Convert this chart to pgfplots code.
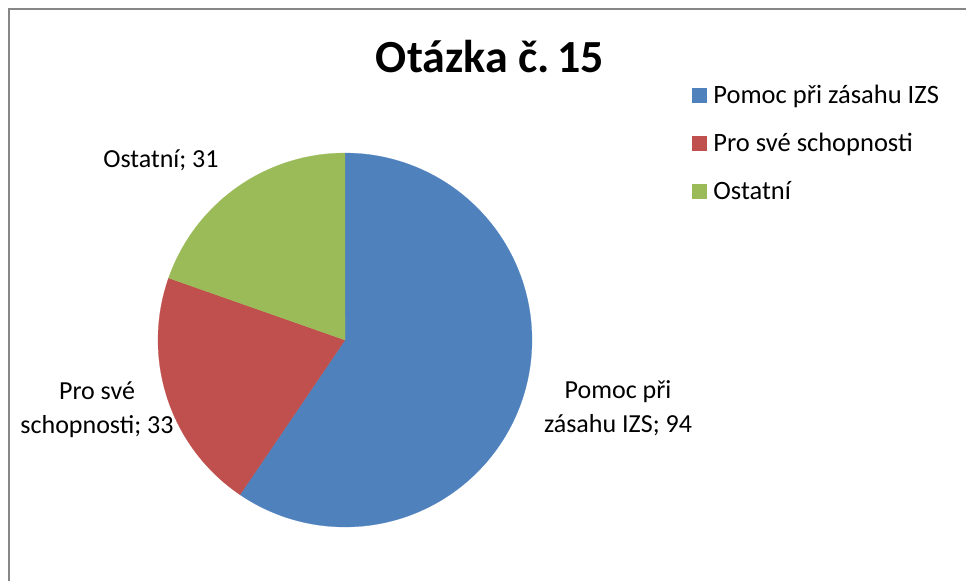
\documentclass[border=0pt]{standalone}
\usepackage{fontspec}
\setmainfont{Carlito}
\usepackage{pgfplots}
\pgfplotsset{compat=1.18}
\definecolor{cBlue}{HTML}{4F81BD}
\definecolor{cRed}{HTML}{C0504D}
\definecolor{cGreen}{HTML}{9BBB59}
\definecolor{cFrame}{HTML}{878787}
% data
\def\vA{94}\def\vB{33}\def\vC{31}
\pgfmathsetmacro\tot{\vA+\vB+\vC}
\pgfmathsetmacro\aA{90-\vA/\tot*360}
\pgfmathsetmacro\aB{\aA-\vB/\tot*360}
\pgfmathsetmacro\aC{\aB-\vC/\tot*360}
\def\cx{345}\def\cy{340}\def\rr{187}
\begin{document}
\begin{tikzpicture}
\useasboundingbox (0,0) rectangle (966pt,581pt);
\begin{axis}[
  at={(0,0)}, anchor=south west,
  width=966pt, height=581pt, scale only axis,
  xmin=0, xmax=966, ymin=0, ymax=581, y dir=reverse,
  hide axis, clip=false,
  legend cell align=left,
  legend style={at={(axis cs:692,84)}, anchor=north west, draw=none, fill=none,
    font=\fontsize{26.5}{31}\selectfont, row sep=26pt, inner sep=0pt,
    nodes={inner sep=1pt}},
  legend image code/.code={\fill[#1] (0pt,-7pt) rectangle (14pt,7pt); \path (20pt,0pt);},
]
\draw[cFrame, line width=2.5pt] (axis cs:9,581) -- (axis cs:9,9) -- (axis cs:966,9);
\addplot[fill=cBlue, draw=cBlue, line width=0.2pt, domain=90:\aA, samples=120]
  ({\cx+\rr*cos(x)},{\cy-\rr*sin(x)}) -- (axis cs:\cx,\cy) -- cycle;
\addlegendentry{Pomoc při zásahu IZS}
\addplot[fill=cRed, draw=cRed, line width=0.2pt, domain=\aA:\aB, samples=60]
  ({\cx+\rr*cos(x)},{\cy-\rr*sin(x)}) -- (axis cs:\cx,\cy) -- cycle;
\addlegendentry{Pro své schopnosti}
\addplot[fill=cGreen, draw=cGreen, line width=0.2pt, domain=\aB:\aC, samples=60]
  ({\cx+\rr*cos(x)},{\cy-\rr*sin(x)}) -- (axis cs:\cx,\cy) -- cycle;
\addlegendentry{Ostatní}
\node[font=\fontsize{46}{55}\selectfont\bfseries, inner sep=0pt, anchor=base] at (axis cs:490,72) {Otázka č.\,15};
\node[font=\fontsize{26}{34}\selectfont, inner sep=0pt, align=center] at (axis cs:161,160) {Ostatní; 31};
\node[font=\fontsize{26}{34}\selectfont, inner sep=0pt, align=center] at (axis cs:618,408) {Pomoc při\\zásahu IZS; 94};
\node[font=\fontsize{26}{34}\selectfont, inner sep=0pt, align=center] at (axis cs:97,410) {Pro své\\schopnosti; 33};
\end{axis}
\end{tikzpicture}
\end{document}
